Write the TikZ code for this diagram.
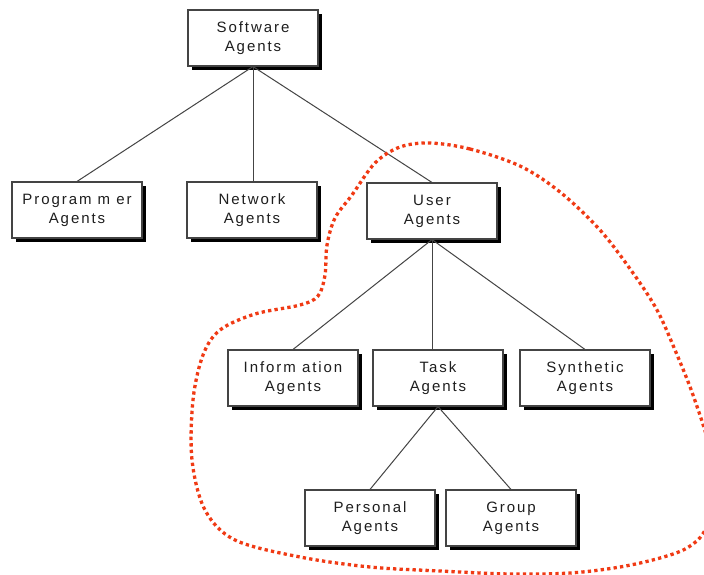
\documentclass[tikz,border=0pt]{standalone}
\usepackage{fontspec}
\newfontfamily\boxfont{Liberation Sans}[LetterSpace=13]
\usetikzlibrary{shadows}
\definecolor{linegray}{HTML}{444444}
\definecolor{textgray}{HTML}{1E1E1E}
\definecolor{dotred}{HTML}{F03A14}
\tikzset{
  agentbox/.style={draw=linegray, line width=1.1pt, fill=white,
    minimum width=130pt, minimum height=56pt, inner sep=0pt,
    align=center, text=textgray,
    font=\boxfont\fontsize{15}{19}\selectfont,
    drop shadow={shadow xshift=3.5pt, shadow yshift=-3.5pt, opacity=1, fill=black}},
  branch/.style={draw=linegray, line width=1pt},
  boundary/.style={draw=dotred, line width=3.3pt, dash pattern=on 3.3pt off 3.2pt}
}
\begin{document}
\begin{tikzpicture}[x=1pt, y=-1pt]
  \clip (0,0) rectangle (704,574);
  \fill[white] (0,0) rectangle (704,574);

  % hierarchy of agent types
  \node[agentbox] (soft)  at (253,38)  {Software\\Agents};
  \node[agentbox] (prog)  at (77,210)  {Program m er\\Agents};
  \node[agentbox] (net)   at (252,210) {Network\\Agents};
  \node[agentbox] (user)  at (432,211) {User\\Agents};
  \node[agentbox] (info)  at (293,378) {Inform ation\\Agents};
  \node[agentbox] (task)  at (438,378) {Task\\Agents};
  \node[agentbox] (synth) at (585,378) {Synthetic\\Agents};
  \node[agentbox] (pers)  at (370,518) {Personal\\Agents};
  \node[agentbox] (group) at (511,518) {Group\\Agents};

  % connectors
  \draw[branch] (soft.south) -- (prog.north);
  \draw[branch] (soft.south) -- (soft.south |- net.north);
  \draw[branch] (soft.south) -- (user.north);
  \draw[branch] (user.south) -- (info.north);
  \draw[branch] (user.south) -- (user.south |- task.north);
  \draw[branch] (user.south) -- (synth.north);
  \draw[branch] (task.south) -- (pers.north);
  \draw[branch] (task.south) -- (group.north);

  % dotted outline around the user-agent branch
  \draw[boundary] plot[smooth cycle, tension=0.55] coordinates {
    (430,143) (470,149) (520,166) (560,192) (600,230) (633,273)
    (657,310) (675,350) (693,395) (710,450) (714,500) (704,532)
    (687,548) (660,558) (620,567) (570,573) (510,574) (440,571)
    (370,567) (300,557) (235,540) (205,510) (192,460) (193,400)
    (203,355) (220,330) (255,314) (300,305) (318,296) (325,275)
    (327,245) (335,218) (352,195) (375,163) (400,147)};
\end{tikzpicture}
\end{document}
